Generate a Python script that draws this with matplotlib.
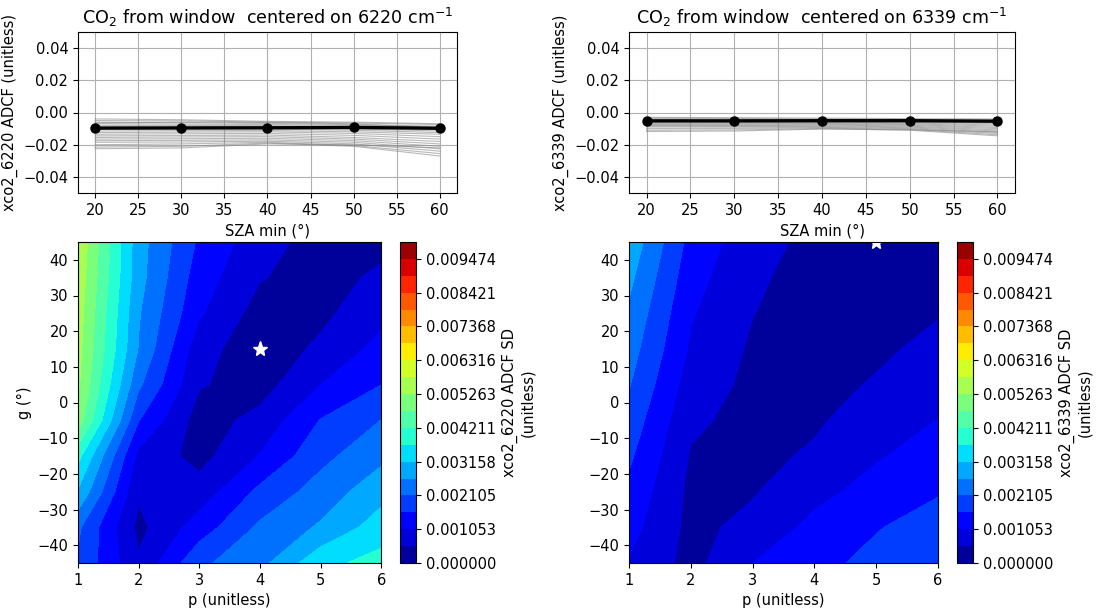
import numpy as np
import matplotlib
matplotlib.use('Agg')
import matplotlib.pyplot as plt

plt.rcParams['font.size'] = 10.5

# SZA min (deg) used for the ADCF fits
sza_min = [20, 30, 40, 50, 60]

# best ADCF per window (black line)
best_6220 = [-9.7, -9.6, -9.5, -9.3, -9.8]
best_6339 = [-5.2, -5.2, -5.1, -5.1, -5.4]

# ADCF for other (p, g) combinations (grey lines), 1e-3 units
others_6220 = [
    [-4.0, -4.5, -5.5, -6.0, -7.0],
    [-5.0, -5.2, -6.0, -6.5, -7.5],
    [-6.0, -6.3, -6.8, -7.5, -8.5],
    [-6.5, -6.0, -6.2, -7.0, -9.8],
    [-7.0, -7.2, -7.5, -8.0, -9.0],
    [-8.0, -8.0, -8.2, -8.8, -9.5],
    [-8.8, -8.7, -8.8, -9.5, -10.5],
    [-9.5, -9.4, -9.6, -10.2, -11.5],
    [-10.5, -10.3, -10.3, -11.0, -12.5],
    [-11.5, -11.3, -11.2, -12.0, -13.5],
    [-12.5, -12.2, -12.0, -13.0, -15.0],
    [-13.5, -13.2, -13.0, -14.2, -16.5],
    [-14.5, -14.3, -14.0, -15.5, -18.0],
    [-15.5, -15.2, -15.0, -16.5, -19.5],
    [-16.5, -16.3, -16.0, -17.5, -21.0],
    [-17.5, -17.3, -17.0, -18.5, -22.5],
    [-18.5, -18.3, -17.8, -19.5, -24.0],
    [-20.0, -19.5, -18.5, -20.5, -25.5],
    [-21.5, -21.0, -19.0, -21.0, -27.0],
    [-22.5, -22.0, -19.5, -20.0, -22.0],
]
others_6339 = [
    [-3.0, -3.2, -3.5, -3.8, -4.0],
    [-3.5, -3.7, -4.0, -4.3, -4.8],
    [-4.0, -4.2, -4.5, -5.0, -5.5],
    [-4.5, -4.7, -5.0, -5.5, -6.3],
    [-5.0, -5.2, -5.5, -6.0, -7.0],
    [-5.5, -5.6, -5.9, -6.5, -7.8],
    [-6.0, -6.1, -6.3, -7.0, -8.5],
    [-6.5, -6.6, -6.8, -7.5, -9.3],
    [-7.0, -7.1, -7.2, -8.0, -10.0],
    [-7.5, -7.6, -7.7, -8.5, -10.8],
    [-8.0, -8.1, -8.2, -9.0, -11.5],
    [-8.5, -8.6, -8.7, -9.5, -12.3],
    [-9.0, -9.1, -9.2, -10.0, -13.0],
    [-10.0, -9.9, -9.6, -10.5, -13.8],
    [-11.0, -10.8, -10.0, -11.0, -14.5],
    [-11.8, -11.5, -10.3, -10.8, -12.0],
]

# p / g grid of the SD maps
p_vals = [1, 2, 3, 4, 5, 6]
g_vals = [-45, -35, -25, -15, -5, 5, 15, 25, 35, 45]

# SD of ADCF across SZA min, rows = g, cols = p, 1e-3 units
sd_6220 = [
    [2.04, 0.60, 2.00, 2.46, 3.54, 3.87],
    [2.20, 0.38, 1.30, 2.20, 2.70, 3.42],
    [3.10, 0.60, 0.74, 1.71, 2.33, 2.96],
    [3.85, 0.90, 0.35, 1.08, 1.95, 2.50],
    [5.05, 1.60, 0.28, 0.69, 1.60, 2.11],
    [5.35, 2.20, 0.57, 0.30, 1.05, 1.575],
    [5.44, 2.60, 0.727, 0.20, 0.63, 1.22],
    [5.52, 2.68, 1.12, 0.30, 0.40, 0.91],
    [5.61, 2.82, 1.30, 0.56, 0.30, 0.64],
    [5.71, 2.85, 1.49, 0.75, 0.30, 0.36],
]
sd_6339 = [
    [1.02, 0.35, 1.05, 1.45, 1.70, 2.02],
    [1.23, 0.38, 0.68, 1.20, 1.55, 1.78],
    [1.45, 0.40, 0.48, 0.90, 1.24, 1.54],
    [1.67, 0.48, 0.38, 0.60, 1.00, 1.30],
    [1.90, 0.62, 0.36, 0.45, 0.80, 1.06],
    [2.14, 0.80, 0.40, 0.33, 0.58, 0.87],
    [2.34, 0.98, 0.45, 0.25, 0.42, 0.68],
    [2.54, 1.10, 0.54, 0.25, 0.30, 0.49],
    [2.76, 1.25, 0.62, 0.31, 0.20, 0.32],
    [3.00, 1.40, 0.73, 0.38, 0.10, 0.20],
]

windows = ['6220', '6339']
best = [best_6220, best_6339]
others = [others_6220, others_6339]
sds = [sd_6220, sd_6339]

levels = np.linspace(0, 0.01, 20)

fig = plt.figure(figsize=(11.1, 6.1), dpi=100)
W, H = 1110., 610.
col_x = [(78, 379), (629, 386)]

for i, win in enumerate(windows):
    x0, w = col_x[i]
    # top: ADCF vs SZA min
    ax = fig.add_axes([x0 / W, (H - 193) / H, w / W, 161 / H])
    for line in others[i]:
        ax.plot(sza_min, np.array(line) * 1e-3, color='grey', lw=0.8, alpha=0.55)
    ax.plot(sza_min, np.array(best[i]) * 1e-3, 'o-', color='k', lw=2.4, ms=6.5)
    ax.set_ylim(-0.05, 0.05)
    ax.set_xticks(np.arange(20, 61, 5))
    ax.grid(True)
    ax.set_xlabel('SZA min (°)')
    ax.set_ylabel('xco2_%s ADCF (unitless)' % win)
    ax.set_title('CO$_2$ from window  centered on %s cm$^{-1}$' % win)

    # bottom: SD map over p and g
    ax2 = fig.add_axes([x0 / W, (H - 563) / H, w / W, 321 / H])
    sd = np.array(sds[i]) * 1e-3
    cs = ax2.contourf(p_vals, g_vals, sd, levels=levels, cmap='jet')
    gi, pi = np.unravel_index(np.argmin(sd), sd.shape)
    ax2.plot(p_vals[pi], g_vals[gi], '*', color='white', ms=11)
    ax2.set_xlabel('p (unitless)')
    if i == 0:
        ax2.set_ylabel('g (°)')
    cb = plt.colorbar(cs, ax=ax2, ticks=levels[::2], format='%f')
    cb.set_label('xco2_%s ADCF SD\n(unitless)' % win)

fig.savefig('out.png', dpi=100)
